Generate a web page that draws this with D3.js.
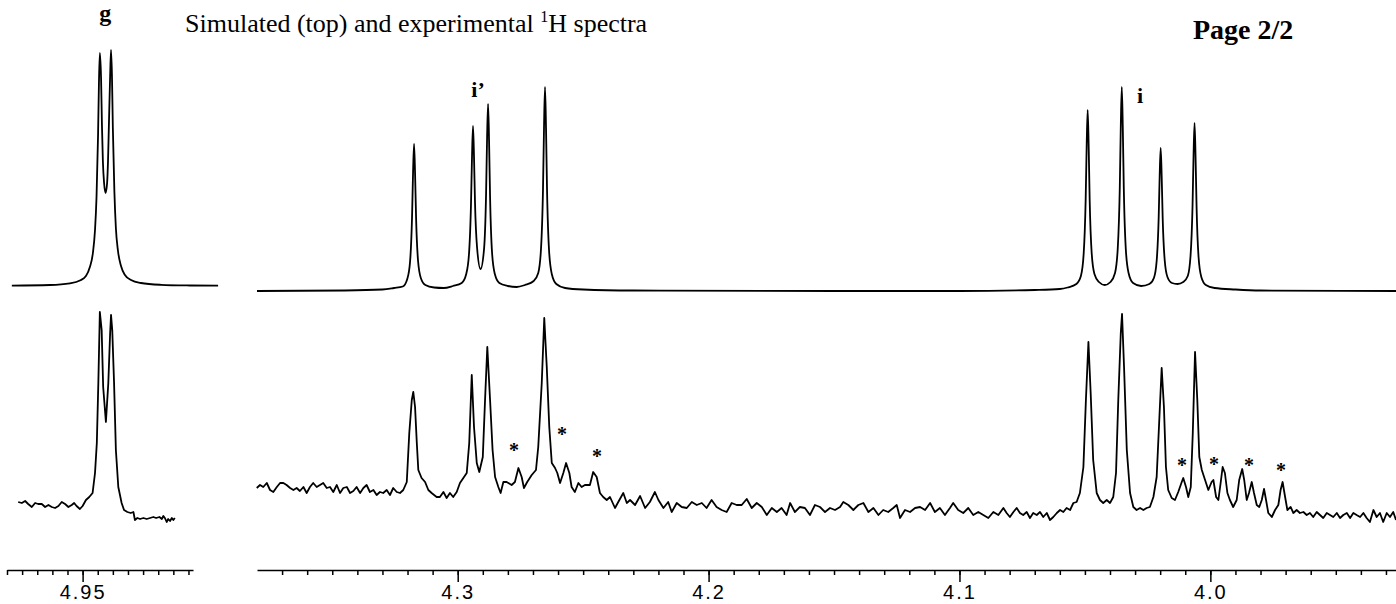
<!DOCTYPE html>
<html>
<head>
<meta charset="utf-8">
<script src="https://cdn.jsdelivr.net/npm/d3@7"></script>
<style>
  body { margin: 0; background: #fff; }
  svg { display: block; }
</style>
</head>
<body>
<svg id="chart"></svg>
<script>
// chemical shift (ppm), intensity (a.u.)
const leftSimulated = [
  [4.9734,0.4],[4.9608,1],[4.9542,2.7],[4.9509,5.5],[4.9489,10],[4.9476,19],[4.9466,33],[4.9459,56],
  [4.9454,89],[4.9449,150],[4.9446,203],[4.9443,233],[4.9439,208],[4.9436,160],[4.9433,125],[4.9429,103],
  [4.9424,93],[4.9419,103],[4.9416,125],[4.9413,162],[4.9409,210],[4.9406,236],[4.9403,211],[4.9400,158],
  [4.9395,95],[4.9390,58],[4.9383,35],[4.9373,20],[4.9360,11],[4.9340,6],[4.9307,3],[4.9241,1.2],
  [4.9145,0.5],[4.9052,0.3]
];

const leftExperimental = [
  [4.9713,18],[4.9701,17],[4.9690,19],[4.9680,16],[4.9668,13],[4.9657,17],[4.9647,16],[4.9635,16],
  [4.9624,13],[4.9613,15],[4.9602,13],[4.9591,12],[4.9580,14],[4.9569,18],[4.9558,16],[4.9547,13],
  [4.9536,15],[4.9528,17],[4.9520,14],[4.9509,11],[4.9500,14],[4.9489,20],[4.9478,23],[4.9467,27],
  [4.9459,47],[4.9453,77],[4.9448,137],[4.9443,208],[4.9437,190],[4.9432,133],[4.9423,98],[4.9415,137],
  [4.9409,187],[4.9406,205],[4.9402,190],[4.9396,137],[4.9390,70],[4.9382,33],[4.9371,17],[4.9363,10],
  [4.9352,8],[4.9341,7],[4.9332,8],[4.9327,0],[4.9319,2],[4.9310,1],[4.9299,2],[4.9288,1],
  [4.9277,2],[4.9266,3],[4.9257,2],[4.9246,3],[4.9238,1],[4.9233,4],[4.9228,2],[4.9222,-2],
  [4.9217,1],[4.9211,-1],[4.9205,2],[4.9200,0],[4.9195,2]
];

const rightSimulated = [
  [4.380,0],[4.345,0.5],[4.330,1.5],[4.3254,3],[4.3219,4.5],[4.3201,12],[4.3190,29],[4.3182,74],
  [4.3178,118],[4.3174,147],[4.3170,118],[4.3166,74],[4.3158,30],[4.3147,13],[4.3129,6],[4.3094,3.5],
  [4.3056,3],[4.3019,5],[4.2984,8],[4.2966,17],[4.2955,37],[4.2947,87],[4.2943,134],[4.2939,165],
  [4.2935,134],[4.2931,88],[4.2923,44],[4.2909,22],[4.2895,42],[4.2887,96],[4.2883,152],[4.2879,187],
  [4.2875,150],[4.2871,94],[4.2863,38],[4.2852,17],[4.2834,8],[4.2800,5],[4.2765,4],[4.2732,6],
  [4.2697,10],[4.2679,18],[4.2668,42],[4.2660,102],[4.2656,163],[4.2652,204],[4.2648,163],[4.2644,102],
  [4.2636,41],[4.2625,17],[4.2607,7],[4.2572,3],[4.2500,1.5],[4.2300,0.5],[4.1500,0],[4.1000,0],
  [4.0700,1],[4.0600,2],[4.0569,3.5],[4.0534,7],[4.0516,15],[4.0505,37],[4.0497,91],[4.0493,145],
  [4.0489,181],[4.0485,145],[4.0481,91],[4.0473,38],[4.0462,17],[4.0444,9],[4.0421,6],[4.0398,9],
  [4.0380,18],[4.0369,43],[4.0361,103],[4.0357,164],[4.0353,204],[4.0349,164],[4.0345,103],[4.0337,42],
  [4.0326,18],[4.0308,8],[4.0276,5],[4.0243,7],[4.0225,13],[4.0214,30],[4.0206,73],[4.0202,115],
  [4.0198,143],[4.0194,115],[4.0190,73],[4.0182,31],[4.0171,14],[4.0153,8],[4.0131,7],[4.0108,9],
  [4.0090,15],[4.0079,35],[4.0071,85],[4.0067,135],[4.0063,168],[4.0059,135],[4.0055,85],[4.0047,34],
  [4.0036,14],[4.0018,6],[3.9983,3],[3.9900,1.5],[3.9800,0.5],[3.9260,0]
];

const rightExperimental = [
  [4.3801,32],[4.3788,35],[4.3775,33],[4.3761,37],[4.3748,30],[4.3735,28],[4.3721,33],[4.3708,37],
  [4.3695,37],[4.3682,35],[4.3668,32],[4.3655,30],[4.3642,32],[4.3629,29],[4.3615,33],[4.3602,27],
  [4.3589,33],[4.3576,37],[4.3562,33],[4.3549,35],[4.3536,37],[4.3522,32],[4.3509,33],[4.3496,28],
  [4.3482,35],[4.3469,27],[4.3456,32],[4.3442,33],[4.3429,27],[4.3416,29],[4.3403,33],[4.3389,27],
  [4.3376,32],[4.3363,35],[4.3350,28],[4.3336,30],[4.3323,25],[4.3310,28],[4.3297,27],[4.3283,30],
  [4.3270,25],[4.3257,32],[4.3243,28],[4.3230,27],[4.3217,30],[4.3203,38],
  [4.3193,87],[4.3183,120],[4.3177,128],[4.3170,113],[4.3163,77],[4.3157,50],[4.3144,42],[4.3130,38],
  [4.3117,30],[4.3104,27],[4.3084,23],[4.3071,23],[4.3057,28],[4.3044,22],[4.3031,27],[4.3018,23],
  [4.3004,28],[4.2991,37],[4.2964,47],[4.2954,77],[4.2944,145],[4.2935,93],[4.2924,57],[4.2914,48],
  [4.2900,63],[4.2891,120],[4.2882,173],[4.2871,120],[4.2861,70],[4.2851,43],[4.2838,33],[4.2829,27],
  [4.2818,38],[4.2805,38],[4.2785,35],[4.2772,38],[4.2758,52],[4.2745,43],[4.2736,32],[4.2723,38],
  [4.2705,45],[4.2688,50],[4.2679,73],[4.2665,137],[4.2655,202],[4.2645,153],[4.2635,93],[4.2625,57],
  [4.2612,52],[4.2603,47],[4.2592,37],[4.2579,47],[4.2568,57],[4.2555,47],[4.2546,33],[4.2533,28],
  [4.2519,37],[4.2506,33],[4.2493,35],[4.2473,35],[4.2460,48],[4.2446,43],[4.2433,27],[4.2420,23],
  [4.2406,20],[4.2393,23],[4.2373,12],[4.2360,18],[4.2340,27],[4.2326,17],
  [4.2313,20],[4.2293,15],[4.2273,24],[4.2253,12],[4.2234,18],[4.2214,28],[4.2200,20],[4.2180,12],
  [4.2161,18],[4.2147,8],[4.2127,17],[4.2107,13],[4.2087,12],[4.2067,18],[4.2047,15],[4.2027,17],
  [4.2008,12],[4.1988,20],[4.1968,13],[4.1948,10],[4.1928,8],[4.1908,17],[4.1888,15],[4.1868,15],
  [4.1848,21],[4.1828,12],[4.1808,17],[4.1788,13],[4.1768,5],[4.1748,12],[4.1728,8],[4.1709,12],
  [4.1689,5],[4.1675,17],[4.1656,8],[4.1636,13],[4.1616,12],[4.1596,5],[4.1576,15],[4.1556,13],
  [4.1536,8],[4.1516,12],[4.1496,10],[4.1476,13],[4.1463,18],[4.1443,15],[4.1423,10],[4.1403,15],
  [4.1383,17],[4.1363,8],[4.1343,12],[4.1323,5],[4.1304,10],[4.1284,8],[4.1264,12],[4.1250,15],
  [4.1237,2],[4.1217,10],[4.1197,8],[4.1177,12],[4.1157,13],[4.1137,10],[4.1117,17],[4.1098,8],
  [4.1078,12],[4.1058,5],[4.1038,12],[4.1025,17],[4.1005,10],[4.0985,7],[4.0965,12],[4.0945,5],
  [4.0925,8],[4.0905,5],[4.0885,2],[4.0865,8],[4.0845,5],
  [4.0825,12],[4.0812,7],[4.0799,3],[4.0785,8],[4.0772,12],[4.0759,7],[4.0746,5],[4.0732,8],
  [4.0719,2],[4.0706,7],[4.0692,5],[4.0679,8],[4.0666,3],[4.0652,7],[4.0639,0],[4.0626,3],
  [4.0612,7],[4.0599,10],[4.0586,8],[4.0573,12],[4.0559,10],[4.0546,17],[4.0533,18],[4.0520,27],
  [4.0506,53],[4.0496,120],[4.0486,178],[4.0477,127],[4.0467,60],[4.0453,27],[4.0440,20],[4.0427,17],
  [4.0413,20],[4.0400,17],[4.0387,23],[4.0376,47],[4.0367,120],[4.0357,187],[4.0352,206],[4.0344,153],
  [4.0333,70],[4.0320,27],[4.0307,13],[4.0294,10],[4.0280,12],[4.0267,10],[4.0254,12],[4.0241,13],
  [4.0227,23],[4.0214,43],[4.0203,103],[4.0194,152],[4.0185,113],[4.0177,53],[4.0168,30],[4.0154,22],
  [4.0141,20],[4.0128,28],[4.0114,38],[4.0108,42],[4.0097,33],[4.0088,23],[4.0078,33],[4.0070,87],
  [4.0061,168],[4.0052,120],[4.0044,63],[4.0034,50],[4.0021,40],[4.0008,30],[3.9995,38],[3.9988,40],
  [3.9977,23],[3.9968,20],[3.9959,37],[3.9951,53],[3.9942,47],[3.9932,27],[3.9922,20],[3.9909,13],
  [3.9895,20],[3.9885,40],[3.9873,51],[3.9865,40],[3.9855,20],[3.9846,27],[3.9835,38],[3.9826,27],
  [3.9815,15],[3.9805,13],[3.9795,20],[3.9786,31],[3.9778,20],[3.9769,7],[3.9755,3],[3.9742,10],
  [3.9729,15],[3.9720,30],[3.9712,38],[3.9702,23],[3.9693,10],[3.9680,13],[3.9669,7],[3.9656,10],
  [3.9643,7],[3.9629,8],[3.9616,5],[3.9603,7],[3.9590,3],[3.9576,8],[3.9563,5],[3.9550,2],
  [3.9536,7],[3.9523,5],[3.9510,3],[3.9496,7],[3.9483,2],[3.9470,5],[3.9456,7],[3.9443,2],
  [3.9430,7],[3.9417,5],[3.9403,3],[3.9390,7],[3.9377,2],[3.9364,-2],[3.9350,10],[3.9337,3],
  [3.9324,7],[3.9311,-2],[3.9297,7],[3.9284,3],[3.9271,8],[3.9260,0]
];

// tick values
const leftMinorTicks = [4.975,4.970,4.965,4.960,4.955,4.950,4.945,4.940,4.935,4.930,4.925,4.920,4.915];
const leftMajorTicks = [4.95];
const rightMinorTicks = [4.37,4.36,4.35,4.34,4.33,4.32,4.31,4.30,4.29,4.28,4.27,4.26,4.25,4.24,4.23,4.22,
  4.21,4.20,4.19,4.18,4.17,4.16,4.15,4.14,4.13,4.12,4.11,4.10,4.09,4.08,4.07,4.06,4.05,4.04,4.03,4.02,
  4.01,4.00,3.99,3.98,3.97,3.96,3.95,3.94,3.93];
const rightMajorTicks = [4.3, 4.2, 4.1, 4.0];

// annotations: label, ppm, intensity
const peakLabelsLeft = [['g', 4.9425, 265]];
const peakLabelsRight = [['i\u2019', 4.2919, 194], ['i', 4.0280, 188]];
const impurityMarks = [[4.2776,73],[4.2584,89],[4.2445,67],[4.0113,58],[3.9985,59],[3.9846,58],[3.9718,53]];

const width = 1396, height = 604;
const axisY = 570;

const svg = d3.select('#chart')
  .attr('width', width)
  .attr('height', height);

// scales
const xL = d3.scaleLinear().domain([4.975, 4.9135]).range([7, 193]);
const xR = d3.scaleLinear().domain([4.38, 3.926]).range([257, 1396]);
const yTopL = d3.scaleLinear().domain([0, 240]).range([286, 46]);
const yTopR = d3.scaleLinear().domain([0, 210]).range([291, 81]);
const yBot = d3.scaleLinear().domain([0, 210]).range([520, 310]);

function drawTrace(data, x, y, curve) {
  const line = d3.line()
    .x((d) => x(d[0]))
    .y((d) => y(d[1]))
    .curve(curve);
  svg.append('path')
    .datum(data)
    .attr('fill', 'none')
    .attr('stroke', '#000')
    .attr('stroke-width', 1.8)
    .attr('stroke-linejoin', 'round')
    .attr('d', line);
}

drawTrace(leftSimulated, xL, yTopL, d3.curveMonotoneX);
drawTrace(rightSimulated, xR, yTopR, d3.curveMonotoneX);
drawTrace(leftExperimental, xL, yBot, d3.curveLinear);
drawTrace(rightExperimental, xR, yBot, d3.curveLinear);

// axes: minor ticks with the baseline, then the labelled major ticks
function drawAxis(x, minor, major, fmt) {
  const gMinor = svg.append('g')
    .attr('transform', `translate(0,${axisY})`)
    .call(d3.axisBottom(x).tickValues(minor).tickSize(5).tickSizeOuter(0).tickFormat(''));
  const gMajor = svg.append('g')
    .attr('transform', `translate(0,${axisY})`)
    .call(d3.axisBottom(x).tickValues(major).tickSize(12).tickFormat(d3.format(fmt)));
  gMajor.select('.domain').remove();
  [gMinor, gMajor].forEach((g) => {
    g.selectAll('path, line').attr('stroke', '#000').attr('stroke-width', 1.5);
  });
  gMajor.selectAll('text')
    .attr('fill', '#000')
    .style('font-family', '"Liberation Sans", Arial, sans-serif')
    .style('font-size', '20px')
    .style('letter-spacing', '2px');
}

drawAxis(xL, leftMinorTicks, leftMajorTicks, '.2f');
drawAxis(xR, rightMinorTicks, rightMajorTicks, '.1f');

// peak labels
const serif = '"Liberation Serif", "Times New Roman", serif';
svg.selectAll('.peak-left')
  .data(peakLabelsLeft)
  .join('text')
  .attr('x', (d) => xL(d[1]))
  .attr('y', (d) => yTopL(d[2]))
  .attr('text-anchor', 'middle')
  .style('font-family', serif)
  .style('font-weight', 'bold')
  .style('font-size', '24px')
  .text((d) => d[0]);

svg.selectAll('.peak-right')
  .data(peakLabelsRight)
  .join('text')
  .attr('x', (d) => xR(d[1]))
  .attr('y', (d) => yTopR(d[2]))
  .attr('text-anchor', 'middle')
  .style('font-family', serif)
  .style('font-weight', 'bold')
  .style('font-size', '22px')
  .text((d) => d[0]);

// impurity asterisks
svg.selectAll('.star')
  .data(impurityMarks)
  .join('text')
  .attr('x', (d) => xR(d[0]))
  .attr('y', (d) => yBot(d[1]))
  .attr('dy', '0.5em')
  .attr('text-anchor', 'middle')
  .style('font-family', serif)
  .style('font-weight', 'bold')
  .style('font-size', '20px')
  .text('*');

// title
const title = svg.append('text')
  .attr('x', 185)
  .attr('y', 32)
  .style('font-family', serif)
  .style('font-size', '26px');
title.append('tspan').text('Simulated (top) and experimental ');
title.append('tspan').attr('dy', -10).style('font-size', '16px').text('1');
title.append('tspan').attr('dy', 10).text('H spectra');

svg.append('text')
  .attr('x', 1193)
  .attr('y', 39)
  .style('font-family', serif)
  .style('font-weight', 'bold')
  .style('font-size', '28px')
  .text('Page 2/2');
</script>
</body>
</html>
